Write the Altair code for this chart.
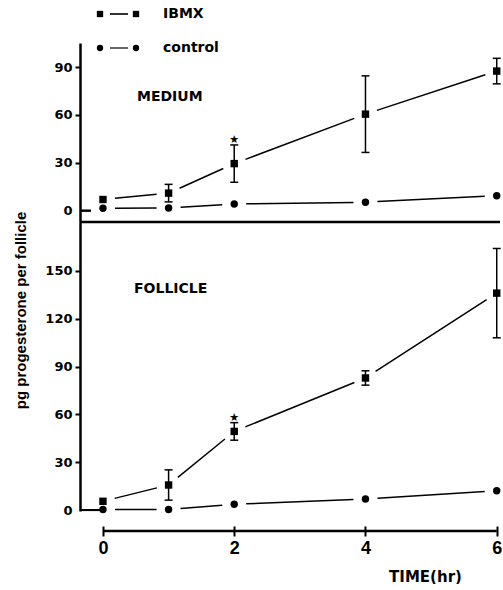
import altair as alt
import pandas as pd

# ---------------- data ----------------
time_hr = [0, 1, 2, 4, 6]

medium_ibmx = [7.0, 11.0, 29.5, 60.5, 87.5]
medium_ibmx_err = [0.0, 5.5, 11.7, 24.0, 8.0]
medium_control = [1.5, 1.7, 4.2, 5.3, 9.4]

follicle_ibmx = [5.5, 15.7, 49.3, 82.8, 136.0]
follicle_ibmx_err = [0.0, 9.5, 5.5, 4.5, 28.0]
follicle_control = [0.3, 0.3, 3.6, 6.9, 12.1]

star_time = [2]  # significant differences marked with a star

medium_ticks = [0, 30, 60, 90]
follicle_ticks = [0, 30, 60, 90, 120, 150]
x_ticks = [0, 2, 4, 6]

series_names = ["IBMX", "control"]

# ---------------- layout ----------------
W = 420
H_TOP = 179
H_BOT = 289
X_DOMAIN = [-0.35, 6.05]
TOP_DOMAIN = [-7.1, 105.1]
BOT_DOMAIN = [-0.6, 180.6]
GAP_PX = 12  # blank space left between a connecting line and its markers

BOLD = "DejaVu Sans"


def long_table(ibmx, err, ctrl):
    rows = []
    for t, v, e in zip(time_hr, ibmx, err):
        rows.append({"time": t, "value": v, "err": e, "series": "IBMX",
                     "star": t in star_time})
    for t, v in zip(time_hr, ctrl):
        rows.append({"time": t, "value": v, "err": 0.0, "series": "control",
                     "star": False})
    return pd.DataFrame(rows)


def segment_table(ibmx, ctrl):
    rows = []
    for name, vals in (("IBMX", ibmx), ("control", ctrl)):
        for t0, t1, v0, v1 in zip(time_hr[:-1], time_hr[1:], vals[:-1], vals[1:]):
            rows.append({"t0": t0, "t1": t1, "v0": v0, "v1": v1,
                         "series": name})
    return pd.DataFrame(rows)


def panel(ibmx, err, ctrl, ydomain, height, yticks, label, label_x, label_y,
          bottom):
    df = long_table(ibmx, err, ctrl)
    seg = segment_table(ibmx, ctrl)
    xs = alt.Scale(domain=X_DOMAIN, nice=False, zero=False)
    ys = alt.Scale(domain=ydomain, nice=False, zero=False)
    kx = W / (X_DOMAIN[1] - X_DOMAIN[0])
    ky = height / (ydomain[1] - ydomain[0])

    if bottom:
        xaxis = alt.Axis(values=x_ticks, format="d", domain=False, ticks=True,
                         tickSize=10, tickWidth=2, tickColor="black", offset=15,
                         labelFont="Liberation Sans", labelFontWeight="bold",
                         labelFontSize=18, labelColor="black", labelPadding=3,
                         grid=False, title="TIME(hr)", titleFont=BOLD,
                         titleFontWeight="bold", titleFontSize=15,
                         titleColor="black", titleX=345, titleY=50,
                         titleAlign="center", titleBaseline="middle")
    else:
        xaxis = None

    yaxis_kw = dict(values=yticks, domain=True, domainWidth=2.5,
                    domainColor="black", ticks=True, tickSize=5, tickWidth=2,
                    tickColor="black",
                    tickOpacity={"condition": {"test": "datum.value === 0",
                                               "value": 0}, "value": 1},
                    labelFont=BOLD, labelFontWeight="bold", labelFontSize=13,
                    labelColor="black", labelPadding=3, grid=False)
    if bottom:
        yaxis = alt.Axis(title="pg progesterone per follicle",
                         titleFont="Liberation Sans",
                         titleFontWeight="bold", titleFontSize=15,
                         titleColor="black", titleX=-60, titleY=88,
                         titleAngle=270, titleAlign="center",
                         titleBaseline="middle", **yaxis_kw)
    else:
        yaxis = alt.Axis(title=None, **yaxis_kw)

    X = alt.X("time:Q", scale=xs, axis=xaxis)
    Y = alt.Y("value:Q", scale=ys, axis=yaxis)
    base = alt.Chart(df)

    # connecting segments between successive time points, stopped short of
    # the markers (gap in pixels converted to data units)
    lines = alt.Chart(seg).transform_calculate(
        L=f"sqrt(pow((datum.t1-datum.t0)*{kx},2)+pow((datum.v1-datum.v0)*{ky},2))"
    ).transform_calculate(
        f=f"{GAP_PX}/datum.L"
    ).transform_calculate(
        time="datum.t0 + datum.f*(datum.t1-datum.t0)",
        time2="datum.t1 - datum.f*(datum.t1-datum.t0)",
        value="datum.v0 + datum.f*(datum.v1-datum.v0)",
        value2="datum.v1 - datum.f*(datum.v1-datum.v0)",
    ).mark_rule(color="black", strokeWidth=1.5).encode(
        x=X, x2="time2:Q", y=Y, y2="value2:Q")

    eb = base.transform_filter("datum.err > 0").transform_calculate(
        lo="datum.value - datum.err", hi="datum.value + datum.err")
    err_rule = eb.mark_rule(color="black", strokeWidth=1.5).encode(
        x=X, y=alt.Y("lo:Q", scale=ys, axis=yaxis), y2="hi:Q")
    cap_lo = eb.mark_tick(orient="horizontal", color="black", size=8,
                          thickness=1.5, opacity=1).encode(
        x=X, y=alt.Y("lo:Q", scale=ys, axis=yaxis))
    cap_hi = eb.mark_tick(orient="horizontal", color="black", size=8,
                          thickness=1.5, opacity=1).encode(
        x=X, y=alt.Y("hi:Q", scale=ys, axis=yaxis))

    markers = base.mark_point(filled=True, opacity=1, color="black",
                              size=55).encode(
        x=X, y=Y,
        shape=alt.Shape("series:N",
                        scale=alt.Scale(domain=series_names,
                                        range=["square", "circle"]),
                        legend=None))

    stars = base.transform_filter("datum.star").transform_calculate(
        hi="datum.value + datum.err").mark_text(
        text="★", font="DejaVu Sans", fontSize=11, color="black",
        baseline="bottom", dy=0).encode(
        x=X, y=alt.Y("hi:Q", scale=ys, axis=yaxis))

    zero_tick = base.transform_filter("datum.time == 0").transform_calculate(
        zero_val="0").mark_rule(color="black", strokeWidth=2).encode(
        x=alt.value(0), x2=alt.value(11 if not bottom else 20),
        y=alt.Y("zero_val:Q", scale=ys, axis=yaxis))

    label_txt = alt.Chart(pd.DataFrame({"l": [label]})).mark_text(
        font=BOLD, fontWeight="bold", fontSize=14, color="black",
        align="left", baseline="middle").encode(
        x=alt.value(label_x), y=alt.value(label_y), text="l:N")

    layers = [lines, zero_tick, err_rule, cap_lo, cap_hi, markers,
              stars, label_txt]

    if bottom:
        xline = alt.Chart(pd.DataFrame({"time": [min(x_ticks)],
                                        "b": [max(x_ticks)]})
                          ).mark_rule(color="black", strokeWidth=2.5).encode(
            x=X, x2="b:Q", y=alt.value(height + 20))
        layers.append(xline)
    else:
        sep = alt.Chart(pd.DataFrame({"s": [1]})).mark_rule(
            color="black", strokeWidth=2.5).encode(
            x=alt.value(0), x2=alt.value(W), y=alt.value(height))
        layers.append(sep)
        # legend
        leg_y = {"IBMX": -29, "control": 5}
        for name, shp, lw in [("IBMX", "square", 1.6), ("control", "circle", 1.2)]:
            one = alt.Chart(pd.DataFrame({"series": [name]}))
            yv = leg_y[name]
            layers.append(one.mark_rule(color="black", strokeWidth=lw).encode(
                x=alt.value(30), x2=alt.value(48), y=alt.value(yv)))
            for xv in (20, 56):
                layers.append(one.mark_point(shape=shp, filled=True,
                                             color="black", opacity=1,
                                             size=40).encode(
                    x=alt.value(xv), y=alt.value(yv)))
            layers.append(one.mark_text(font=BOLD, fontWeight="bold",
                                        fontSize=14, color="black",
                                        align="left",
                                        baseline="middle").encode(
                x=alt.value(83), y=alt.value(yv), text="series:N"))

    return alt.layer(*layers).properties(width=W, height=height)


top = panel(medium_ibmx, medium_ibmx_err, medium_control,
            TOP_DOMAIN, H_TOP, medium_ticks, "MEDIUM", 57, 54, False)
bot = panel(follicle_ibmx, follicle_ibmx_err, follicle_control,
            BOT_DOMAIN, H_BOT, follicle_ticks, "FOLLICLE", 54, 67, True)

chart = alt.vconcat(top, bot, spacing=0, bounds="flush").properties(
    padding={"left": 12, "top": 7, "right": 0, "bottom": 0},
    background="white",
).configure_view(strokeWidth=0)

chart.save("out.html", embed_options={"renderer": "svg", "actions": False})
